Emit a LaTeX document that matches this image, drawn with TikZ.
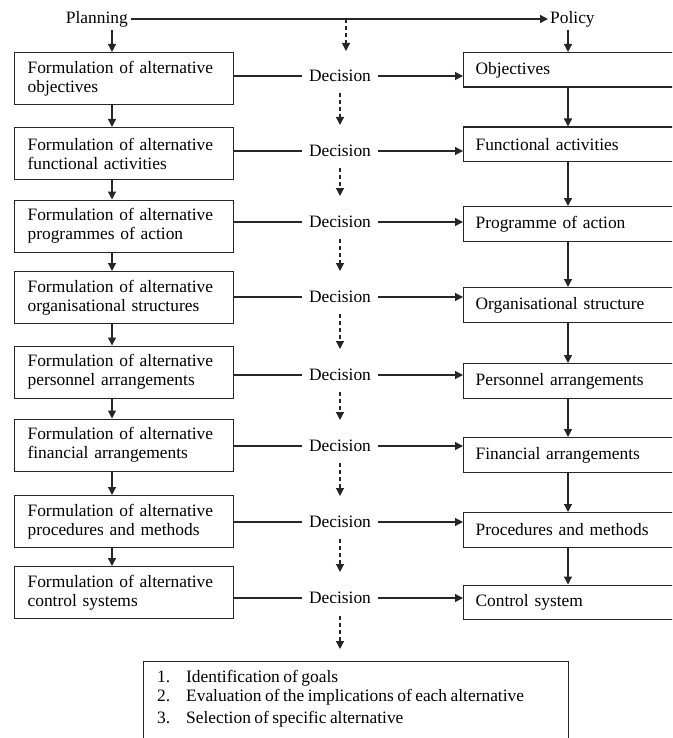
\documentclass[tikz,border=0pt]{standalone}
\usepackage{fontspec}
\setmainfont[WordSpace=0.8]{Liberation Serif}
\usetikzlibrary{arrows.meta,calc}
\begin{document}
\begin{tikzpicture}[x=1pt,y=-1pt,
  every node/.style={font=\fontsize{17.4}{19}\selectfont, text=black},
  ln/.style={draw=black!85, line width=1.2pt},
  arr/.style={ln, -{Triangle[length=8pt,width=8pt]}},
  darr/.style={ln, dash pattern=on 4pt off 3pt, -{Triangle[length=8pt,width=8pt]}},
  lbox/.style={draw=black!85, line width=1.2pt, anchor=north west, minimum width=219pt,
    minimum height=52pt, text width=193pt, inner xsep=13pt, inner ysep=0pt, align=left},
  rbox/.style={draw=black!85, line width=1.2pt, anchor=north west, minimum width=217pt,
    minimum height=34.5pt, text width=193pt, inner xsep=12pt, inner ysep=0pt, align=left},
  dec/.style={inner xsep=7pt, inner ysep=0pt}
]
\useasboundingbox (0,0) rectangle (672,738);
\clip (0,0) rectangle (672,738);

\coordinate (xl) at (112,0);
\coordinate (xr) at (568,0);

\node[anchor=east, inner xsep=3pt] (Planning) at (131,19) {Planning};
\node[anchor=west, inner xsep=2pt] (Policy) at (548,19) {Policy};
\draw[arr] (Planning.east) -- (Policy.west);
\coordinate (T1) at (346,19);
\coordinate (T2) at (346,51);
\draw[darr] (T1) -- (T2);

% left boxes
\node[lbox] (L1) at (14,52) {Formulation of alternative\\objectives};
\node[lbox] (L2) at (14,127) {Formulation of alternative\\functional activities};
\node[lbox] (L3) at (14,199.5) {Formulation of alternative\\programmes of action};
\node[lbox] (L4) at (14,271) {Formulation of alternative\\organisational structures};
\node[lbox] (L5) at (14,345.5) {Formulation of alternative\\personnel arrangements};
\node[lbox] (L6) at (14,418.5) {Formulation of alternative\\financial arrangements};
\node[lbox] (L7) at (14,495) {Formulation of alternative\\procedures and methods};
\node[lbox] (L8) at (14,566) {Formulation of alternative\\control systems};

% right boxes
\node[rbox] (R1) at (463,52) {Objectives};
\node[rbox] (R2) at (463,126.5) {Functional activities};
\node[rbox] (R3) at (463,206) {Programme of action};
\node[rbox] (R4) at (463,287) {Organisational structure};
\node[rbox] (R5) at (463,363) {Personnel arrangements};
\node[rbox] (R6) at (463,437) {Financial arrangements};
\node[rbox] (R7) at (463,512) {Procedures and methods};
\node[rbox] (R8) at (463,584.5) {Control system};

% decisions
\node[dec] (D1) at (340,76) {Decision};
\node[dec] (D2) at (340,151) {Decision};
\node[dec] (D3) at (340,222) {Decision};
\node[dec] (D4) at (340,297) {Decision};
\node[dec] (D5) at (340,375) {Decision};
\node[dec] (D6) at (340,446) {Decision};
\node[dec] (D7) at (340,522) {Decision};
\node[dec] (D8) at (340,598) {Decision};

\foreach \i in {1,...,8}{
  \draw[ln] (L\i.east |- D\i) -- (D\i.west);
  \draw[arr] (D\i.east) -- (D\i.east -| R\i.west);
}

% vertical arrows
\draw[arr] (Planning.south -| xl) -- (L1.north -| xl);
\draw[arr] (Policy.south -| xr) -- (R1.north -| xr);
\foreach \i/\j in {1/2,2/3,3/4,4/5,5/6,6/7,7/8}{
  \draw[arr] (L\i.south -| xl) -- (L\j.north -| xl);
  \draw[arr] (R\i.south -| xr) -- (R\j.north -| xr);
  \draw[darr] ($(D\i)+(0,17)$) -- ($(D\j)+(0,-26)$);
}

% goals box
\node[draw=black!85, line width=1.2pt, anchor=north west, minimum width=425pt,
  minimum height=110pt, inner sep=0pt] (G) at (143,661) {};
\draw[darr] ($(D8)+(0,18)$) -- ($(G.north west)+(197,-12)$);
\node[anchor=base west, inner sep=0pt, align=left] (list) at (157,682)
  {\begin{tabular}[t]{@{}p{29pt}@{}l@{}}
   1. & Identification of goals\\
   2. & Evaluation of the implications of each alternative\\[3pt]
   3. & Selection of specific alternative
   \end{tabular}};
\end{tikzpicture}
\end{document}
